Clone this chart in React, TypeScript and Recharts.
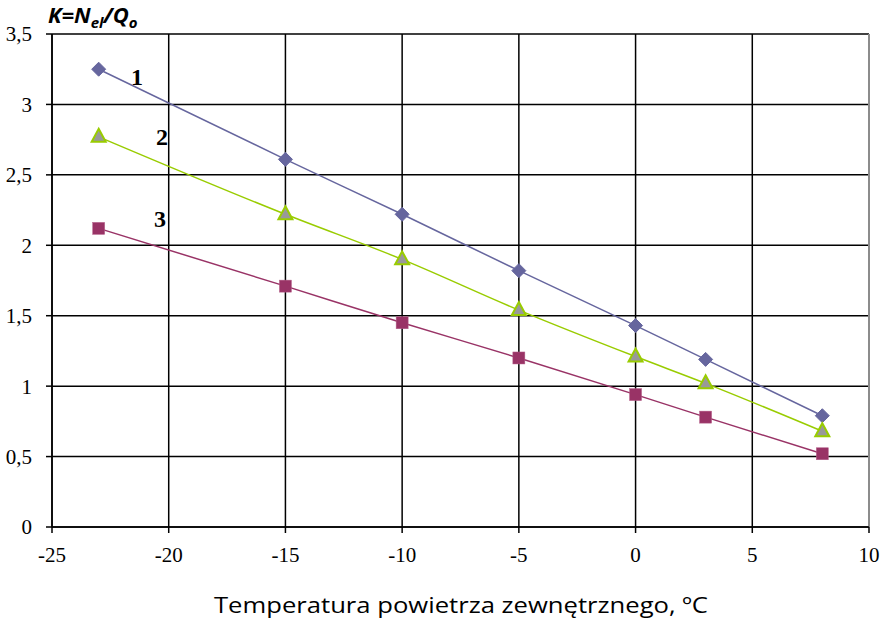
import { CartesianGrid, Line, LineChart, ReferenceLine, XAxis, YAxis } from "recharts";

const temps = [-23, -15, -10, -5, 0, 3, 8];
const series1 = [3.25, 2.61, 2.22, 1.82, 1.43, 1.19, 0.79];
const series2 = [2.77, 2.22, 1.9, 1.54, 1.21, 1.02, 0.68];
const series3 = [2.12, 1.71, 1.45, 1.2, 0.94, 0.78, 0.52];
const xTicks = [-25, -20, -15, -10, -5, 0, 5, 10];
const yTicks = [0, 0.5, 1, 1.5, 2, 2.5, 3, 3.5];

const data = temps.map((t, i) => ({ t, s1: series1[i], s2: series2[i], s3: series3[i] }));

const serif = "Liberation Serif";
const sans = "Open Sans";

function Diamond({ cx, cy }: { cx?: number; cy?: number }) {
  if (cx == null || cy == null) return null;
  const r = 7;
  return (
    <path
      d={`M${cx},${cy - r}L${cx + r},${cy}L${cx},${cy + r}L${cx - r},${cy}Z`}
      fill="#66669e"
      stroke="#66669e"
    />
  );
}

function Triangle({ cx, cy }: { cx?: number; cy?: number }) {
  if (cx == null || cy == null) return null;
  return (
    <path
      d={`M${cx},${cy - 8}L${cx + 7},${cy + 5}L${cx - 7},${cy + 5}Z`}
      fill="#999999"
      stroke="#99cc00"
      strokeWidth={2}
    />
  );
}

function Square({ cx, cy }: { cx?: number; cy?: number }) {
  if (cx == null || cy == null) return null;
  return <rect x={cx - 6} y={cy - 6} width={12} height={12} fill="#993366" stroke="#b5608a" strokeWidth={0.5} />;
}

const fmt = (v: number) => String(v).replace(".", ",");

export default function App() {
  return (
    <div
      style={{
        position: "absolute",
        left: 0,
        top: 0,
        width: 883,
        height: 623,
        background: "#fff",
        fontFamily: serif,
      }}
    >
      <LineChart width={883} height={623} data={data} margin={{ top: 34, right: 14, left: 0, bottom: 66 }}>
        <CartesianGrid stroke="#000" strokeWidth={1.5} horizontal vertical />
        <XAxis
          dataKey="t"
          type="number"
          domain={[-25, 10]}
          ticks={xTicks}
          interval={0}
          height={30}
          stroke="#000"
          strokeWidth={1.5}
          tickSize={6}
          tickLine={{ stroke: "#000", strokeWidth: 1.5 }}
          tick={{ fill: "#000", fontSize: 21, fontFamily: serif, dy: 6 }}
          tickMargin={8}
        />
        <YAxis
          type="number"
          domain={[0, 3.5]}
          ticks={yTicks}
          interval={0}
          width={52}
          stroke="#000"
          strokeWidth={1.5}
          tickSize={6}
          tickLine={{ stroke: "#000", strokeWidth: 1.5 }}
          tickFormatter={fmt}
          tick={{ fill: "#000", fontSize: 21, fontFamily: serif, dx: -6 }}
          tickMargin={8}
        />
        <ReferenceLine x={10} stroke="#8c8c8c" strokeWidth={2} />
        <Line type="monotone" dataKey="s1" stroke="#66669e" strokeWidth={1.5} dot={<Diamond />} isAnimationActive={false} />
        <Line type="monotone" dataKey="s2" stroke="#99cc00" strokeWidth={1.5} dot={<Triangle />} isAnimationActive={false} />
        <Line type="monotone" dataKey="s3" stroke="#993366" strokeWidth={1.5} dot={<Square />} isAnimationActive={false} />
      </LineChart>
      <svg width={883} height={623} style={{ position: "absolute", left: 0, top: 0, pointerEvents: "none" }}>
        <text x={48} y={23} fontFamily={sans} fontWeight="bold" fontStyle="italic" fontSize={22} fill="#000">
          K=N
          <tspan fontSize={15} dy={5}>el</tspan>
          <tspan fontSize={22} dy={-5}>/Q</tspan>
          <tspan fontSize={15} dy={5}>o</tspan>
        </text>
        <g fontFamily={serif} fontWeight="bold" fontSize={24} fill="#000">
          <text x={131} y={85}>1</text>
          <text x={156} y={145}>2</text>
          <text x={154} y={227}>3</text>
        </g>
        <text x={214} y={613} fontFamily={sans} fontSize={22} fill="#000" textLength={494} lengthAdjust="spacingAndGlyphs">
          Temperatura powietrza zewnętrznego, ºC
        </text>
      </svg>
    </div>
  );
}
